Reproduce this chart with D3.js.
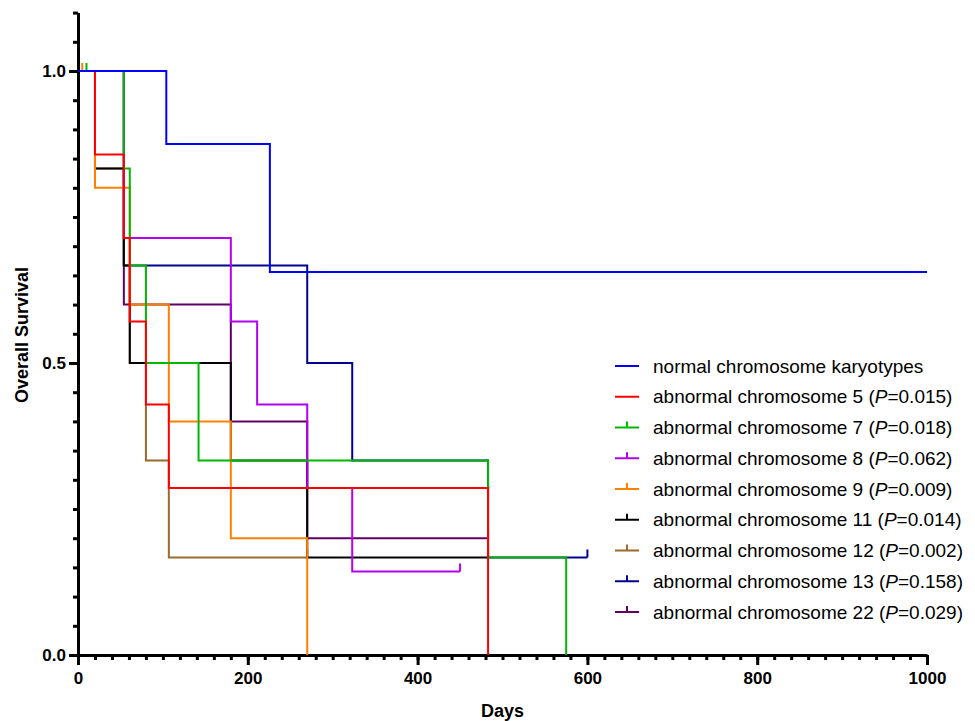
<!DOCTYPE html>
<html lang="en">
<head>
    <meta charset="UTF-8">
    <title>Overall Survival by Karyotype</title>
    <script src="https://d3js.org/d3.v7.min.js"></script>
    <style>
        body { margin: 0; background: #fff; }
        svg { font-family: "Liberation Sans", Arial, sans-serif; }
        .axis path, .axis line { stroke: #000; stroke-width: 3; }
        .axis-label { font-size: 18px; font-weight: bold; }
        .curve { fill: none; stroke-width: 2; }
        .legend text { font-size: 19px; }
    </style>
</head>
<body>
    <div id="chart"></div>
    <script>
        // Kaplan-Meier data (days, survival after each drop)
        const groups = ["normal chromosome karyotypes", "abnormal chromosome 5", "abnormal chromosome 7",
            "abnormal chromosome 8", "abnormal chromosome 9", "abnormal chromosome 11",
            "abnormal chromosome 12", "abnormal chromosome 13", "abnormal chromosome 22"];
        const pValues = [null, "0.015", "0.018", "0.062", "0.009", "0.014", "0.002", "0.158", "0.029"];
        const stepTimes = [
            [104, 226],
            [20, 54, 61, 80, 107, 483],
            [54, 61, 80, 142, 483, 575],
            [54, 180, 211, 270, 323],
            [20, 61, 107, 180, 270],
            [20, 54, 61, 180, 270],
            [20, 54, 61, 80, 107],
            [54, 270, 323, 483],
            [54, 180, 270]
        ];
        const stepSurvival = [
            [0.875, 0.656],
            [0.857, 0.714, 0.571, 0.429, 0.286, 0],
            [0.833, 0.667, 0.5, 0.333, 0.167, 0],
            [0.714, 0.571, 0.429, 0.286, 0.143],
            [0.8, 0.6, 0.4, 0.2, 0],
            [0.833, 0.667, 0.5, 0.333, 0.167],
            [0.833, 0.667, 0.5, 0.333, 0.167],
            [0.667, 0.5, 0.333, 0.167],
            [0.6, 0.4, 0.2]
        ];
        const endTimes = [1000, 483, 575, 450, 270, 483, 270, 600, 483];
        const censorTimes = [[], [], [10], [450], [5], [483], [270], [600], [483]];
        const xTicks = [0, 200, 400, 600, 800, 1000];
        const yTicks = [0, 0.5, 1.0];

        const colors = ["#0000ff", "#ff0000", "#00b800", "#b400f0", "#ff8000",
            "#000000", "#9c6a2c", "#000090", "#600060"];
        // bottom-to-top drawing order
        const drawOrder = [8, 7, 6, 5, 4, 3, 2, 1, 0];

        const W = 975, H = 721;
        const svg = d3.select("#chart").append("svg")
            .attr("width", W)
            .attr("height", H);

        const x = d3.scaleLinear().domain([0, 1000]).range([78, 927]);
        const y = d3.scaleLinear().domain([0, 1.1]).range([655, 12.6]);

        // minor ticks
        svg.append("g")
            .attr("class", "axis")
            .attr("transform", "translate(0,655)")
            .call(d3.axisBottom(x).tickValues(d3.range(0, 1001, 20)).tickSize(5).tickFormat(""))
            .call(g => g.select(".domain").remove());
        svg.append("g")
            .attr("class", "axis")
            .attr("transform", "translate(78,0)")
            .call(d3.axisLeft(y).tickValues(d3.range(0, 1.1001, 0.05)).tickSize(5).tickFormat(""))
            .call(g => g.select(".domain").remove());

        // major ticks + axis lines
        const styleLabels = g => {
            g.attr("font-size", 17)
                .attr("font-weight", "bold")
                .attr("font-family", "'Liberation Sans', Arial, sans-serif");
            g.selectAll("text")
                .attr("font-size", 17)
                .attr("font-weight", "bold")
                .attr("fill", "#000");
        };

        svg.append("g")
            .attr("class", "axis")
            .attr("transform", "translate(0,655)")
            .call(d3.axisBottom(x).tickValues(xTicks).tickSize(10).tickSizeOuter(0).tickPadding(7)
                .tickFormat(d3.format("d")))
            .call(styleLabels);
        svg.append("g")
            .attr("class", "axis")
            .attr("transform", "translate(78,0)")
            .call(d3.axisLeft(y).tickValues(yTicks).tickSize(9).tickSizeOuter(0).tickPadding(3)
                .tickFormat(d3.format(".1f")))
            .call(styleLabels);

        svg.append("text")
            .attr("class", "axis-label")
            .attr("x", x(500))
            .attr("y", 717)
            .attr("text-anchor", "middle")
            .text("Days");

        svg.append("text")
            .attr("class", "axis-label")
            .attr("transform", "translate(28,335) rotate(-90)")
            .attr("text-anchor", "middle")
            .text("Overall Survival");

        const line = d3.line()
            .x(d => x(d[0]))
            .y(d => y(d[1]))
            .curve(d3.curveStepAfter);

        function survivalAt(i, t) {
            let s = 1;
            stepTimes[i].forEach((st, j) => { if (st <= t) s = stepSurvival[i][j]; });
            return s;
        }

        drawOrder.forEach(i => {
            const pts = [[0, 1]];
            stepTimes[i].forEach((t, j) => pts.push([t, stepSurvival[i][j]]));
            pts.push([endTimes[i], stepSurvival[i][stepSurvival[i].length - 1]]);

            svg.append("path")
                .attr("class", "curve")
                .attr("stroke", colors[i])
                .attr("d", line(pts));

            svg.selectAll(null)
                .data(censorTimes[i])
                .enter().append("line")
                .attr("x1", t => x(t))
                .attr("x2", t => x(t))
                .attr("y1", t => y(survivalAt(i, t)))
                .attr("y2", t => y(survivalAt(i, t)) - 8)
                .attr("stroke", colors[i])
                .attr("stroke-width", 2);
        });

        // legend
        const legend = svg.append("g")
            .attr("class", "legend")
            .selectAll("g")
            .data(groups)
            .enter().append("g")
            .attr("transform", (d, i) => `translate(615,${366 + i * 30.75})`);

        legend.append("line")
            .attr("x1", 0)
            .attr("x2", 24)
            .attr("stroke", (d, i) => colors[i])
            .attr("stroke-width", 2);

        legend.filter((d, i) => censorTimes[i].length > 0)
            .append("line")
            .attr("x1", 12)
            .attr("x2", 12)
            .attr("y1", 0)
            .attr("y2", -6)
            .attr("stroke", d => colors[groups.indexOf(d)])
            .attr("stroke-width", 2);

        const lt = legend.append("text")
            .attr("x", 38)
            .attr("dy", "0.35em");
        lt.append("tspan").text((d, i) => pValues[i] ? d + " (" : d);
        lt.filter((d, i) => pValues[i]).append("tspan").attr("font-style", "italic").text("P");
        lt.filter((d, i) => pValues[i]).append("tspan")
            .text(d => "=" + pValues[groups.indexOf(d)] + ")");
    </script>
</body>
</html>
